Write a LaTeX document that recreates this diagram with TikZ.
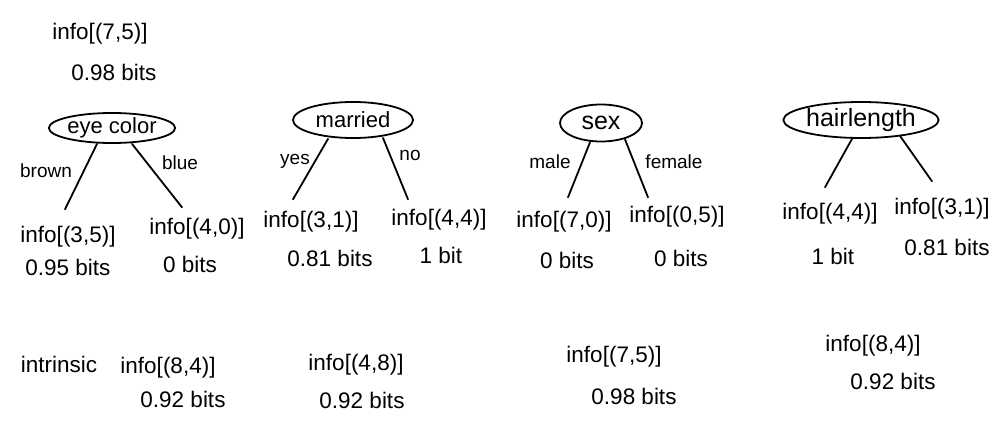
\documentclass[tikz,border=0pt]{standalone}
\usepackage{fontspec}
\setmainfont{Liberation Sans}
\usetikzlibrary{shapes.geometric}
\begin{document}
\begin{tikzpicture}[x=1pt,y=-1pt,
  txt/.style={inner sep=2pt, font=\fontsize{22.5}{26}\selectfont},
  lbl/.style={inner sep=1pt, font=\fontsize{19}{22}\selectfont},
  attr/.style={draw, ellipse, line width=1.8pt, inner sep=0pt, font=\fontsize{22}{26}\selectfont},
  branch/.style={line width=1.8pt, line cap=round}]
\useasboundingbox (0,0) rectangle (994,447);
\fill[white] (0,0) rectangle (994,447);

% entropy of the whole set
\node[txt] (rootinfo) at (100,34) {info[(7,5)]};
\node[txt] (rootbits) at (114,72) {0.98 bits};

% candidate attributes
\node[attr, minimum width=110pt, minimum height=30pt] (eye) at (112,128) {eye color};
\node[attr, minimum width=120pt, minimum height=36pt] (mar) at (353,120) {married};
\node[attr, minimum width=82pt, minimum height=37pt, font=\fontsize{25}{28}\selectfont] (sex) at (601,123) {sex};
\node[attr, minimum width=148pt, minimum height=36pt, font=\fontsize{25}{28}\selectfont] (hair) at (861,120) {hairlength};

% split results
\node[txt] (e1) at (68,237) {info[(3,5)]};
\node[txt] (e1b) at (68,267) {0.95 bits};
\node[txt] (e2) at (197,229) {info[(4,0)]};
\node[txt] (e2b) at (190,264) {0 bits};

\node[txt] (m1) at (311,222) {info[(3,1)]};
\node[txt] (m1b) at (330,258) {0.81 bits};
\node[txt] (m2) at (439,220) {info[(4,4)]};
\node[txt] (m2b) at (441,255) {1 bit};

\node[txt] (s1) at (564,222) {info[(7,0)]};
\node[txt] (s1b) at (567,260) {0 bits};
\node[txt] (s2) at (677,217) {info[(0,5)]};
\node[txt] (s2b) at (681,258) {0 bits};

\node[txt] (h1) at (830,214) {info[(4,4)]};
\node[txt] (h1b) at (833,256) {1 bit};
\node[txt] (h2) at (942,209) {info[(3,1)]};
\node[txt] (h2b) at (947,247) {0.81 bits};

% branch labels
\node[lbl] (lbrown) at (46,171) {brown};
\node[lbl] (lblue) at (180,163) {blue};
\node[lbl] (lyes) at (295,161) {yes};
\node[lbl] (lno) at (410,155) {no};
\node[lbl] (lmale) at (550,162) {male};
\node[lbl] (lfemale) at (674,162) {female};

% branches
\draw[branch] ([xshift=-15pt]eye.south) -- ([xshift=-3pt,yshift=15pt]e1.north);
\draw[branch] ([xshift=20pt]eye.south) -- ([xshift=-15pt,yshift=9pt]e2.north);
\draw[branch] ([xshift=-25pt]mar.south) -- ([xshift=-18pt,yshift=10pt]m1.north);
\draw[branch] ([xshift=30pt,yshift=1pt]mar.south) -- ([xshift=-31pt,yshift=8pt]m2.north);
\draw[branch] ([xshift=-11pt]sex.south) -- ([xshift=4pt,yshift=12pt]s1.north);
\draw[branch] ([xshift=24pt,yshift=3pt]sex.south) -- ([xshift=-29pt,yshift=7pt]s2.north);
\draw[branch] ([xshift=-9pt]hair.south) -- ([xshift=-5pt,yshift=14pt]h1.north);
\draw[branch] ([xshift=39pt,yshift=3pt]hair.south) -- ([xshift=-10pt,yshift=15pt]h2.north);

% intrinsic information of each split
\node[txt] (intr) at (59,364) {intrinsic};
\node[txt] (i1) at (168,368) {info[(8,4)]};
\node[txt] (i1b) at (183,399) {0.92 bits};
\node[txt] (i2) at (356,365) {info[(4,8)]};
\node[txt] (i2b) at (362,400) {0.92 bits};
\node[txt] (i3) at (614,357) {info[(7,5)]};
\node[txt] (i3b) at (634,396) {0.98 bits};
\node[txt] (i4) at (873,346) {info[(8,4)]};
\node[txt] (i4b) at (893,381) {0.92 bits};
\end{tikzpicture}
\end{document}
